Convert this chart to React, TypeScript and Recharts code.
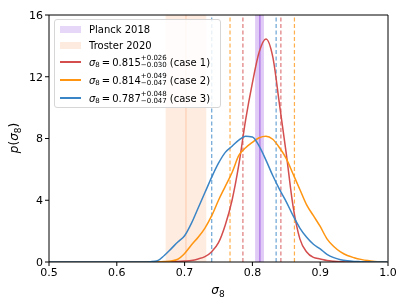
import {
  ComposedChart,
  Line,
  XAxis,
  YAxis,
  ReferenceArea,
  ReferenceLine,
} from "recharts";

// sigma_8 grid and posterior densities
const xs = [
  0.5, 0.6, 0.64, 0.65, 0.66, 0.67, 0.68, 0.69, 0.7, 0.71, 0.72, 0.73, 0.74,
  0.75, 0.76, 0.77, 0.78, 0.79, 0.8, 0.81, 0.82, 0.83, 0.84, 0.85, 0.86, 0.87,
  0.88, 0.89, 0.9, 0.91, 0.92, 0.93, 0.94, 0.95, 0.96, 0.97, 0.98, 0.99, 1.0,
];
const case1 = [
  0, 0, 0, 0, 0, 0, 0.01, 0.03, 0.06, 0.1, 0.2, 0.35, 0.67, 1.25, 2.4, 4.0,
  6.3, 9.2, 11.6, 13.6, 14.45, 13.3, 10.2, 7.0, 3.6, 1.5, 0.65, 0.3, 0.2, 0.1,
  0.05, 0.02, 0, 0, 0, 0, 0, 0, 0,
];
const case2 = [
  0, 0, 0, 0, 0.01, 0.03, 0.07, 0.18, 0.55, 1.1, 1.6, 2.2, 3.0, 4.0, 4.9, 5.8,
  6.9, 7.4, 7.75, 8.05, 8.15, 7.95, 7.4, 6.7, 5.7, 4.7, 3.7, 3.0, 2.3, 1.5, 1.0,
  0.65, 0.42, 0.28, 0.17, 0.09, 0.04, 0.01, 0,
];
const case3 = [
  0, 0, 0, 0.02, 0.08, 0.42, 0.85, 1.3, 1.7, 2.5, 3.5, 4.5, 5.5, 6.4, 7.1, 7.5,
  7.9, 8.15, 8.1, 7.5, 6.6, 5.6, 4.7, 3.9, 3.0, 2.2, 1.6, 1.15, 0.85, 0.5, 0.28,
  0.15, 0.08, 0.04, 0.02, 0, 0, 0, 0,
];

// 68% bounds of each case (dashed lines)
const case1Bounds = [0.786, 0.842];
const case2Bounds = [0.767, 0.862];
const case3Bounds = [0.74, 0.835];

// external constraints: [low, centre, high]
const planck = [0.804, 0.811, 0.817];
const troster = [0.672, 0.702, 0.732];

const xTicks = [0.5, 0.6, 0.7, 0.8, 0.9, 1.0];
const yTicks = [0, 4, 8, 12, 16];

const caseLabels = [
  { value: "0.815", up: "+0.026", down: "\u22120.030", name: "(case 1)" },
  { value: "0.814", up: "+0.049", down: "\u22120.047", name: "(case 2)" },
  { value: "0.787", up: "+0.048", down: "\u22120.047", name: "(case 3)" },
];

const RED = "#d44e4e";
const ORANGE = "#ff9511";
const BLUE = "#3a85c6";
const COLORS = [RED, ORANGE, BLUE];

const data = xs.map((x, i) => ({
  x,
  c1: case1[i],
  c2: case2[i],
  c3: case3[i],
}));

const FONT = "DejaVu Sans, sans-serif";

const YLabel = () => (
  <text
    x={18}
    y={138}
    transform="rotate(-90 18 138)"
    textAnchor="middle"
    fontFamily={FONT}
    fontSize={12}
    fill="#000"
  >
    <tspan fontStyle="italic">p</tspan>
    <tspan>(</tspan>
    <tspan fontStyle="italic">σ</tspan>
    <tspan fontSize={9} dy={3}>8</tspan>
    <tspan dy={-3}>)</tspan>
  </text>
);

const XLabel = () => (
  <text
    x={218}
    y={294}
    textAnchor="middle"
    fontFamily={FONT}
    fontSize={12}
    fill="#000"
  >
    <tspan fontStyle="italic">σ</tspan>
    <tspan fontSize={9} dy={3}>8</tspan>
  </text>
);

const Patch = ({ color }: { color: string }) => (
  <span
    style={{
      display: "inline-block",
      width: 21,
      height: 7,
      background: color,
      marginRight: 8,
    }}
  />
);

const LineKey = ({ color }: { color: string }) => (
  <span
    style={{
      display: "inline-block",
      width: 21,
      height: 2,
      background: color,
      marginRight: 8,
      verticalAlign: "middle",
    }}
  />
);

const ChartLegend = () => (
  <div
    style={{
      position: "absolute",
      left: 54,
      top: 19,
      width: 167,
      height: 89,
      border: "1px solid #d6d6d6",
      borderRadius: 3,
      background: "rgba(255,255,255,0.85)",
      fontFamily: FONT,
      fontSize: 10,
      color: "#000",
      boxSizing: "border-box",
      padding: "2px 0 0 5px",
    }}
  >
    <div style={{ height: 15, display: "flex", alignItems: "center" }}>
      <Patch color="#e6d6f7" />
      Planck 2018
    </div>
    <div style={{ height: 16, display: "flex", alignItems: "center" }}>
      <Patch color="#feebdf" />
      Troster 2020
    </div>
    {caseLabels.map((c, i) => (
      <div
        key={c.name}
        style={{ height: 18, display: "flex", alignItems: "center" }}
      >
        <LineKey color={COLORS[i]} />
        <span style={{ fontStyle: "italic" }}>σ</span>
        <span style={{ fontSize: 7, position: "relative", top: 3 }}>8</span>
        <span style={{ margin: "0 2px" }}>=</span>
        <span>{c.value}</span>
        <span
          style={{
            display: "inline-flex",
            flexDirection: "column",
            fontSize: 7,
            lineHeight: "7px",
            marginRight: 3,
          }}
        >
          <span>{c.up}</span>
          <span>{c.down}</span>
        </span>
        <span>{c.name}</span>
      </div>
    ))}
  </div>
);

const dashed = [case3Bounds, case2Bounds, case1Bounds];

export default function App() {
  return (
    <div style={{ position: "fixed", left: 0, top: 0, width: 407, height: 305 }}>
      <ComposedChart
        width={407}
        height={305}
        data={data}
        margin={{ top: 15, right: 19, bottom: 0, left: 0 }}
      >
        <ReferenceArea
          x1={troster[0]}
          x2={troster[2]}
          y1={0}
          y2={16}
          fill="#feece1"
          fillOpacity={1}
          stroke="none"
        />
        <ReferenceLine x={troster[1]} stroke="#fdd4bb" strokeWidth={1.5} />
        <ReferenceArea
          x1={planck[0]}
          x2={planck[2]}
          y1={0}
          y2={16}
          fill="#e0caf6"
          fillOpacity={1}
          stroke="none"
        />
        <ReferenceLine x={planck[1]} stroke="#b47ee8" strokeWidth={1.5} />
        {dashed.map((b, i) =>
          b.map((v) => (
            <ReferenceLine
              key={`${i}-${v}`}
              x={v}
              stroke={COLORS[2 - i]}
              strokeOpacity={0.75}
              strokeDasharray="4 2.5"
              strokeWidth={1.2}
            />
          ))
        )}
        <XAxis
          dataKey="x"
          type="number"
          domain={[0.5, 1.0]}
          ticks={xTicks}
          tickFormatter={(v: number) => v.toFixed(1)}
          allowDataOverflow
          height={43}
          tickSize={4}
          tick={{ fill: "#000", fontSize: 11, fontFamily: FONT }}
          stroke="#000"
        />
        <YAxis
          type="number"
          domain={[0, 16]}
          ticks={yTicks}
          allowDataOverflow
          width={49}
          tickSize={4}
          tick={{ fill: "#000", fontSize: 11, fontFamily: FONT }}
          stroke="#000"
        />
        <ReferenceLine x={1.0} stroke="#000" />
        <ReferenceLine y={16} stroke="#000" />
        <Line
          dataKey="c1"
          type="monotone"
          stroke={RED}
          strokeWidth={1.5}
          dot={false}
          isAnimationActive={false}
        />
        <Line
          dataKey="c2"
          type="monotone"
          stroke={ORANGE}
          strokeWidth={1.5}
          dot={false}
          isAnimationActive={false}
        />
        <Line
          dataKey="c3"
          type="monotone"
          stroke={BLUE}
          strokeWidth={1.5}
          dot={false}
          isAnimationActive={false}
        />
      </ComposedChart>
      <svg
        width={407}
        height={305}
        style={{ position: "absolute", left: 0, top: 0, pointerEvents: "none" }}
      >
        <YLabel />
        <XLabel />
      </svg>
      <ChartLegend />
    </div>
  );
}
